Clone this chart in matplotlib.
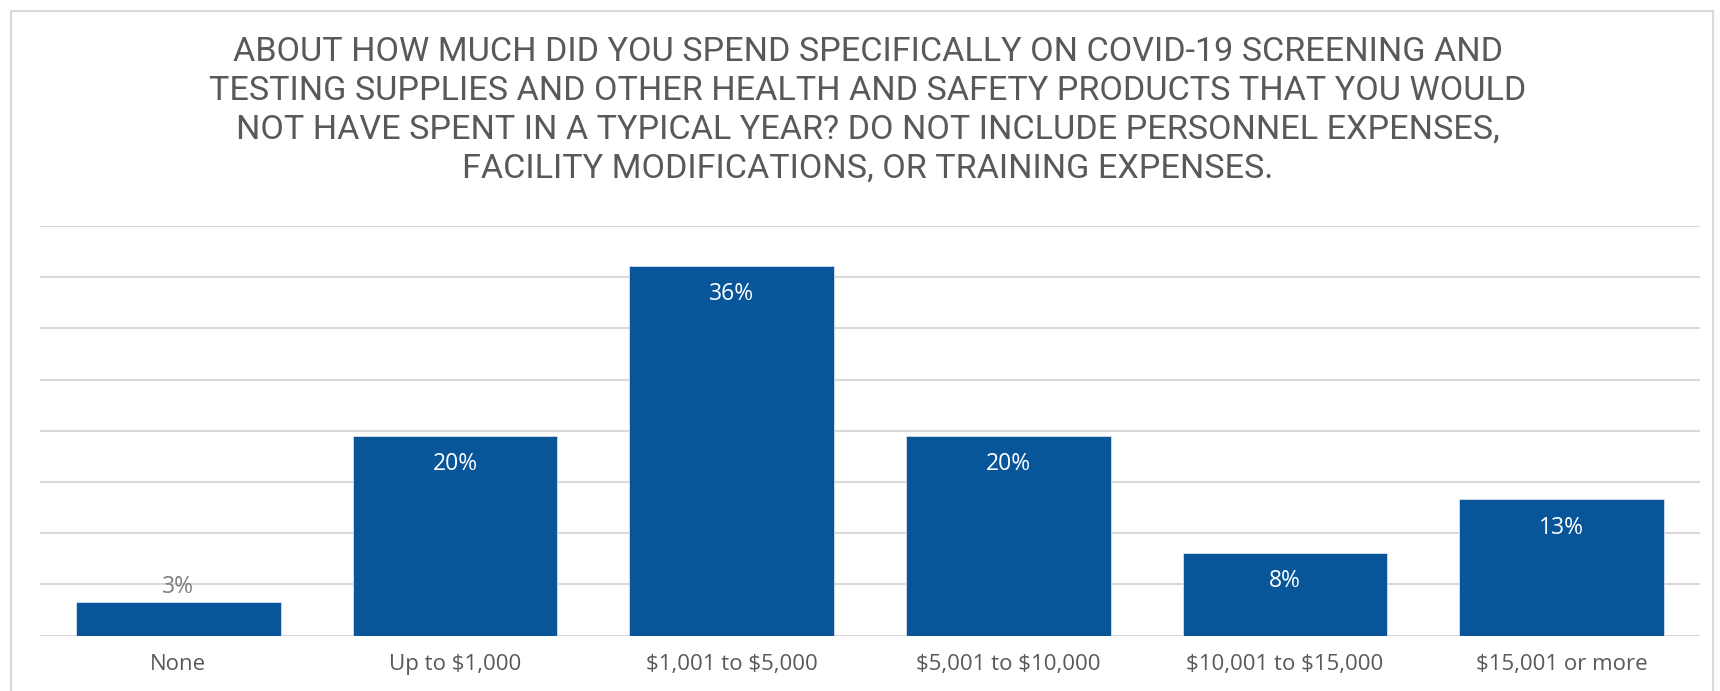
import matplotlib
matplotlib.use("Agg")
import matplotlib.pyplot as plt
from matplotlib.patches import Rectangle

categories = ["None", "Up to $1,000", "$1,001 to $5,000", "$5,001 to $10,000",
              "$10,001 to $15,000", "$15,001 or more"]
values = [3.3, 19.5, 36.1, 19.5, 8.1, 13.3]
value_labels = ["3%", "20%", "36%", "20%", "8%", "13%"]
title = ("ABOUT HOW MUCH DID YOU SPEND SPECIFICALLY ON COVID-19 SCREENING AND\n"
         "TESTING SUPPLIES AND OTHER HEALTH AND SAFETY PRODUCTS THAT YOU WOULD\n"
         "NOT HAVE SPENT IN A TYPICAL YEAR? DO NOT INCLUDE PERSONNEL EXPENSES,\n"
         "FACILITY MODIFICATIONS, OR TRAINING EXPENSES.")

title_family = ["Roboto", "DejaVu Sans"]
lab_family = ["Open Sans", "DejaVu Sans"]

W, H = 1720, 691
fig = plt.figure(figsize=(W / 100, H / 100), dpi=100)
fig.patch.set_facecolor("white")

# chart frame
fig.patches.append(Rectangle((11 / W, -0.05), (1713 - 11) / W, 1.05 - 11 / H,
                             transform=fig.transFigure, fill=False,
                             edgecolor="#D9D9D9", linewidth=1.5))

ax = fig.add_axes([40 / W, (H - 635.7) / H, 1660 / W, (635.7 - 226) / H])
x = list(range(len(categories)))
ax.bar(x, values, width=0.74, color="#08559A", edgecolor="#D6E0EC",
       linewidth=0.6, zorder=3)
ax.set_xlim(-0.5, len(categories) - 0.5)
ax.set_ylim(0, 40)
ax.set_yticks([0, 5, 10, 15, 20, 25, 30, 35, 40])
ax.yaxis.grid(True, color="#D9D9D9", linewidth=1.5, zorder=0)
ax.tick_params(axis="y", left=False, labelleft=False)
ax.tick_params(axis="x", bottom=False, pad=10)
for s in ax.spines.values():
    s.set_visible(False)
ax.set_xticks(x)
ax.set_xticklabels(categories, fontsize=16, color="#595959",
                   family=lab_family, parse_math=False)

for xi, v, lab in zip(x, values, value_labels):
    if v > 5:
        ax.annotate(lab, (xi, v), xytext=(0, -20.5), textcoords="offset points",
                    ha="center", va="center", color="white", fontsize=16.5,
                    family=lab_family, zorder=4)
    else:
        ax.annotate(lab, (xi, v), xytext=(0, 10.5), textcoords="offset points",
                    ha="center", va="center", color="#7F7F7F", fontsize=16.5,
                    family=lab_family, zorder=4)

fig.text(868 / W, 1 - 110.5 / H, title, ha="center", va="center",
         fontsize=24.6, color="#595959", linespacing=1.275, family=title_family)

fig.savefig("out.png", dpi=100)
